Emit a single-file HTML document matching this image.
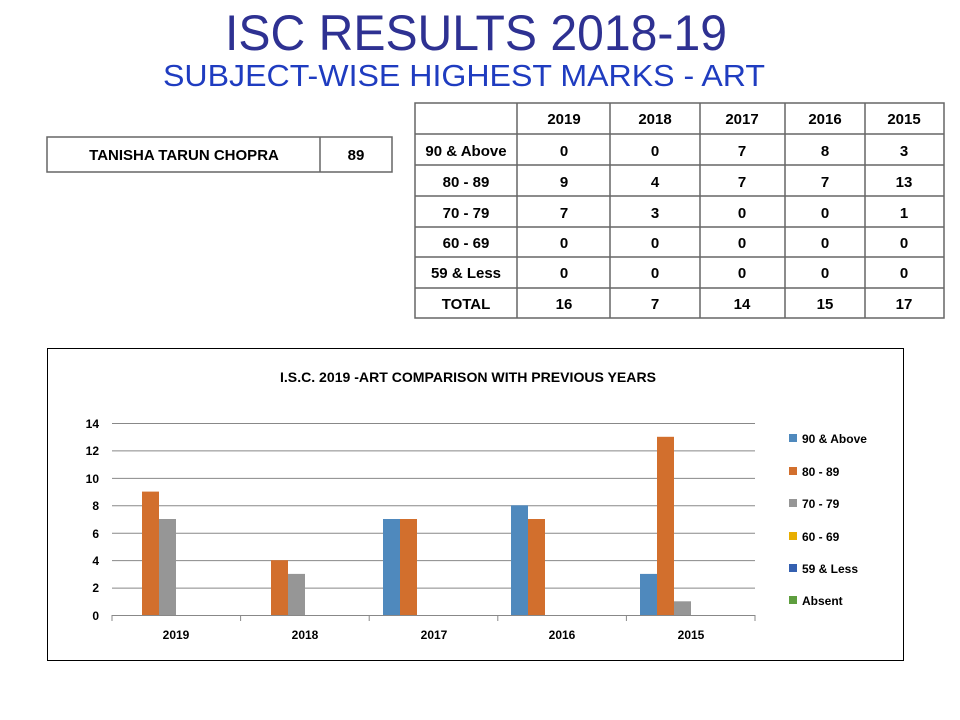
<!DOCTYPE html>
<html><head><meta charset="utf-8"><style>
html,body{margin:0;padding:0;background:#fff;width:960px;height:720px;overflow:hidden}
text{font-family:"Liberation Sans",sans-serif}
.b{font-weight:bold;font-size:15px;fill:#000}
.s{font-weight:bold;font-size:12px;fill:#000}
</style></head><body>
<svg width="960" height="720" viewBox="0 0 960 720" xmlns="http://www.w3.org/2000/svg">
<text x="476" y="50" text-anchor="middle" font-size="50" fill="#2E3192" textLength="502" lengthAdjust="spacingAndGlyphs">ISC RESULTS 2018-19</text>
<text x="464" y="86" text-anchor="middle" font-size="31" fill="#1F3CC0" textLength="602" lengthAdjust="spacingAndGlyphs">SUBJECT-WISE HIGHEST MARKS - ART</text>

<!-- name box -->
<g stroke="#666" stroke-width="1.5" fill="none">
<rect x="47" y="137" width="345" height="35"/>
<line x1="320" y1="137" x2="320" y2="172"/>
</g>
<text class="b" x="184" y="160" text-anchor="middle">TANISHA TARUN CHOPRA</text>
<text class="b" x="356" y="160" text-anchor="middle">89</text>

<!-- table -->
<g stroke="#666" stroke-width="1.5" fill="none">
<rect x="415" y="103" width="529" height="215"/>
<line x1="415" y1="134" x2="944" y2="134"/>
<line x1="415" y1="165" x2="944" y2="165"/>
<line x1="415" y1="196" x2="944" y2="196"/>
<line x1="415" y1="227" x2="944" y2="227"/>
<line x1="415" y1="257" x2="944" y2="257"/>
<line x1="415" y1="288" x2="944" y2="288"/>
<line x1="517" y1="103" x2="517" y2="318"/>
<line x1="610" y1="103" x2="610" y2="318"/>
<line x1="700" y1="103" x2="700" y2="318"/>
<line x1="785" y1="103" x2="785" y2="318"/>
<line x1="865" y1="103" x2="865" y2="318"/>
</g>
<g text-anchor="middle">
<text class="b" x="564" y="124">2019</text><text class="b" x="655" y="124">2018</text><text class="b" x="742" y="124">2017</text><text class="b" x="825" y="124">2016</text><text class="b" x="904" y="124">2015</text>
<text class="b" x="466" y="156">90 &amp; Above</text>
<text class="b" x="466" y="187">80 - 89</text>
<text class="b" x="466" y="218">70 - 79</text>
<text class="b" x="466" y="248">60 - 69</text>
<text class="b" x="466" y="278">59 &amp; Less</text>
<text class="b" x="466" y="309">TOTAL</text>
<text class="b" x="564" y="156">0</text><text class="b" x="655" y="156">0</text><text class="b" x="742" y="156">7</text><text class="b" x="825" y="156">8</text><text class="b" x="904" y="156">3</text>
<text class="b" x="564" y="187">9</text><text class="b" x="655" y="187">4</text><text class="b" x="742" y="187">7</text><text class="b" x="825" y="187">7</text><text class="b" x="904" y="187">13</text>
<text class="b" x="564" y="218">7</text><text class="b" x="655" y="218">3</text><text class="b" x="742" y="218">0</text><text class="b" x="825" y="218">0</text><text class="b" x="904" y="218">1</text>
<text class="b" x="564" y="248">0</text><text class="b" x="655" y="248">0</text><text class="b" x="742" y="248">0</text><text class="b" x="825" y="248">0</text><text class="b" x="904" y="248">0</text>
<text class="b" x="564" y="278">0</text><text class="b" x="655" y="278">0</text><text class="b" x="742" y="278">0</text><text class="b" x="825" y="278">0</text><text class="b" x="904" y="278">0</text>
<text class="b" x="564" y="309">16</text><text class="b" x="655" y="309">7</text><text class="b" x="742" y="309">14</text><text class="b" x="825" y="309">15</text><text class="b" x="904" y="309">17</text>
</g>

<!-- chart -->
<rect x="47.5" y="348.5" width="856" height="312" fill="#fff" stroke="#000" stroke-width="1"/>
<text x="468" y="382" text-anchor="middle" font-weight="bold" font-size="14" textLength="376" lengthAdjust="spacingAndGlyphs">I.S.C. 2019 -ART COMPARISON WITH PREVIOUS YEARS</text>
<g stroke="#888" stroke-width="1">
<line x1="112" y1="423.5" x2="755" y2="423.5"/>
<line x1="112" y1="450.9" x2="755" y2="450.9"/>
<line x1="112" y1="478.4" x2="755" y2="478.4"/>
<line x1="112" y1="505.8" x2="755" y2="505.8"/>
<line x1="112" y1="533.2" x2="755" y2="533.2"/>
<line x1="112" y1="560.6" x2="755" y2="560.6"/>
<line x1="112" y1="588.1" x2="755" y2="588.1"/>
<line x1="112" y1="615.5" x2="755" y2="615.5"/>
<line x1="112" y1="615" x2="112" y2="621"/>
<line x1="240.6" y1="615" x2="240.6" y2="621"/>
<line x1="369.2" y1="615" x2="369.2" y2="621"/>
<line x1="497.8" y1="615" x2="497.8" y2="621"/>
<line x1="626.4" y1="615" x2="626.4" y2="621"/>
<line x1="755" y1="615" x2="755" y2="621"/>
</g>
<g text-anchor="end">
<text class="s" x="99" y="428">14</text><text class="s" x="99" y="455">12</text><text class="s" x="99" y="483">10</text><text class="s" x="99" y="510">8</text><text class="s" x="99" y="538">6</text><text class="s" x="99" y="565">4</text><text class="s" x="99" y="592">2</text><text class="s" x="99" y="620">0</text>
</g>
<g text-anchor="middle">
<text class="s" x="176" y="639">2019</text><text class="s" x="305" y="639">2018</text><text class="s" x="434" y="639">2017</text><text class="s" x="562" y="639">2016</text><text class="s" x="691" y="639">2015</text>
</g>
<g>
<rect x="142" y="491.6" width="17" height="123.4" fill="#D26F2D"/>
<rect x="159" y="519" width="17" height="96" fill="#969696"/>
<rect x="271" y="560.2" width="17" height="54.8" fill="#D26F2D"/>
<rect x="288" y="573.9" width="17" height="41.1" fill="#969696"/>
<rect x="383" y="519" width="17" height="96" fill="#4F89BD"/>
<rect x="400" y="519" width="17" height="96" fill="#D26F2D"/>
<rect x="511" y="505.3" width="17" height="109.7" fill="#4F89BD"/>
<rect x="528" y="519" width="17" height="96" fill="#D26F2D"/>
<rect x="640" y="573.9" width="17" height="41.1" fill="#4F89BD"/>
<rect x="657" y="436.8" width="17" height="178.2" fill="#D26F2D"/>
<rect x="674" y="601.3" width="17" height="13.7" fill="#969696"/>
</g>
<rect x="789" y="434" width="8" height="8" fill="#4F89BD"/>
<rect x="789" y="467" width="8" height="8" fill="#D26F2D"/>
<rect x="789" y="499" width="8" height="8" fill="#969696"/>
<rect x="789" y="532" width="8" height="8" fill="#E8AE00"/>
<rect x="789" y="564" width="8" height="8" fill="#3460B0"/>
<rect x="789" y="596" width="8" height="8" fill="#5E9E3E"/>
<text class="s" x="802" y="443">90 &amp; Above</text>
<text class="s" x="802" y="476">80 - 89</text>
<text class="s" x="802" y="508">70 - 79</text>
<text class="s" x="802" y="541">60 - 69</text>
<text class="s" x="802" y="573">59 &amp; Less</text>
<text class="s" x="802" y="605">Absent</text>
</svg>
</body></html>
